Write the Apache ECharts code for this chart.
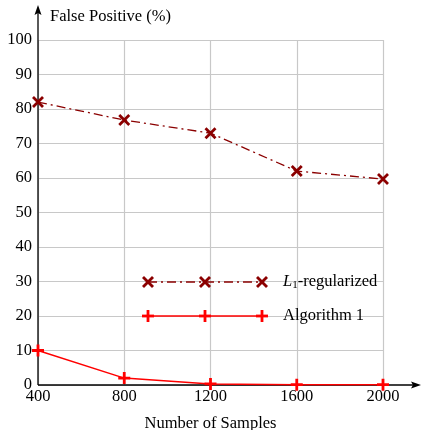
<!DOCTYPE html>
<html><head><meta charset="utf-8">
<script src="https://cdn.jsdelivr.net/npm/echarts@6/dist/echarts.min.js"></script>
<style>html,body{margin:0;padding:0;background:#fff}#c{width:423px;height:430px}</style>
</head><body><div id="c"></div>
<script>
const samples = [400, 800, 1200, 1600, 2000];
const l1Regularized = [82, 76.8, 73, 62, 59.7];
const algorithm1 = [10, 2, 0.3, 0.1, 0.1];
const xTicks = [400, 800, 1200, 1600, 2000];
const yTicks = [0,10,20,30,40,50,60,70,80,90,100];
const seriesNames = ['L1-regularized', 'Algorithm 1'];

const FONT = 'Liberation Serif';
const FS = 16.5;
const DARK = '#8b0000';
const RED = '#ff0000';
const X_PATH = 'path://M0,0L10,10M10,0L0,10';
const P_PATH = 'path://M5,0L5,10M0,5L10,5';

const chart = echarts.init(document.getElementById('c'));
const option = {
  animation: false,
  grid: {left: 38, right: 40, top: 40, bottom: 45, containLabel: false, outerBoundsMode: 'none'},
  xAxis: {
    type: 'value', min: xTicks[0], max: xTicks[xTicks.length-1], interval: 400,
    axisLine: {show: false}, axisTick: {show: false},
    axisLabel: {color: '#000', fontFamily: FONT, fontSize: FS, margin: 3, formatter: v => String(v)},
    splitLine: {lineStyle: {color: '#c8c8c8', width: 1.2}},
    name: 'Number of Samples', nameLocation: 'middle', nameGap: 30,
    nameTextStyle: {color: '#000', fontFamily: FONT, fontSize: FS}
  },
  yAxis: {
    type: 'value', min: yTicks[0], max: yTicks[yTicks.length-1], interval: 10,
    axisLine: {show: false}, axisTick: {show: false},
    axisLabel: {color: '#000', fontFamily: FONT, fontSize: FS, margin: 6, formatter: v => String(v)},
    splitLine: {lineStyle: {color: '#c8c8c8', width: 1.2}}
  },
  series: [
    {
      name: seriesNames[0], type: 'line',
      data: samples.map((s,i)=>[s, l1Regularized[i]]),
      symbol: X_PATH, symbolSize: 10,
      itemStyle: {color: DARK, borderColor: DARK, borderWidth: 2.8},
      lineStyle: {color: DARK, width: 1.3, type: [9,4,2,4]},
      z: 3
    },
    {
      name: seriesNames[1], type: 'line',
      data: samples.map((s,i)=>[s, algorithm1[i]]),
      symbol: P_PATH, symbolSize: 12,
      itemStyle: {color: RED, borderColor: RED, borderWidth: 2.8},
      lineStyle: {color: RED, width: 1.5},
      z: 4
    }
  ]
};
chart.setOption(option);

const o = chart.convertToPixel({xAxisIndex:0, yAxisIndex:0}, [xTicks[0], yTicks[0]]);
const g = [];
g.push({type:'line', shape:{x1:o[0], y1:o[1], x2:414, y2:o[1]}, style:{stroke:'#000', lineWidth:1.3}});
g.push({type:'polygon', shape:{points:[[421,o[1]],[411,o[1]-3.5],[413,o[1]],[411,o[1]+3.5]]}, style:{fill:'#000'}});
g.push({type:'line', shape:{x1:o[0], y1:o[1], x2:o[0], y2:12}, style:{stroke:'#000', lineWidth:1.3}});
g.push({type:'polygon', shape:{points:[[o[0],5],[o[0]-3.5,15],[o[0],13],[o[0]+3.5,15]]}, style:{fill:'#000'}});
g.push({type:'text', left: 50, top: 8, style:{text:'False Positive (%)', font:FS + 'px ' + FONT, fill:'#000'}});

function legendRow(y, color, dash, path, size, width, label, rich) {
  g.push({type:'line', shape:{x1:148,y1:y,x2:262,y2:y}, style:{stroke:color, lineWidth:width, lineDash:dash}});
  [148,205,262].forEach(x=>{
    const h = size/2;
    if (path==='x') {
      g.push({type:'polyline', shape:{points:[[x-h,y-h],[x+h,y+h]]}, style:{stroke:color, lineWidth:2.8}});
      g.push({type:'polyline', shape:{points:[[x+h,y-h],[x-h,y+h]]}, style:{stroke:color, lineWidth:2.8}});
    } else {
      g.push({type:'polyline', shape:{points:[[x,y-h],[x,y+h]]}, style:{stroke:color, lineWidth:2.8}});
      g.push({type:'polyline', shape:{points:[[x-h,y],[x+h,y]]}, style:{stroke:color, lineWidth:2.8}});
    }
  });
  g.push({type:'text', left:283, top:y-9, style:{text:label, rich:rich, font:FS + 'px ' + FONT, fill:'#000'}});
}
legendRow(282, DARK, [9,4,2,4], 'x', 10, 1.3, '{i|L}{s|1}-regularized',
  {i:{fontStyle:'italic', fontFamily:FONT, fontSize:FS}, s:{fontFamily:FONT, fontSize:11, padding:[8,0,0,0]}});
legendRow(316, RED, null, 'p', 12, 1.5, 'Algorithm 1', null);
chart.setOption({graphic: g});
</script></body></html>
